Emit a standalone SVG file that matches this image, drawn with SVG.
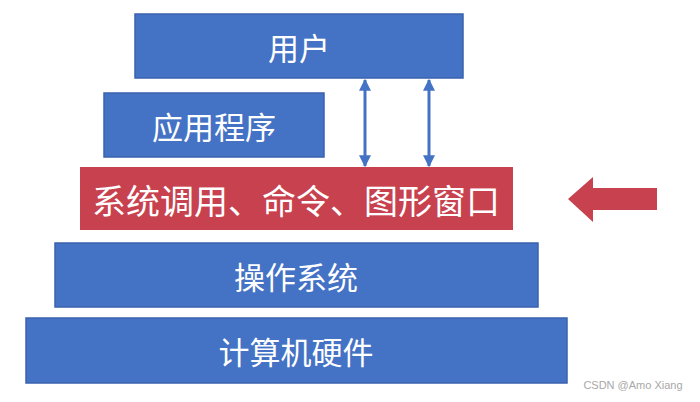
<svg xmlns="http://www.w3.org/2000/svg" width="700" height="402" viewBox="0 0 700 402">
<defs>
<style>
.blue{fill:#4472C4;stroke:#3A63AE;stroke-width:1.5}
.red{fill:#C8414F;stroke:none}
.t{fill:#fff;font-family:"Noto Sans CJK SC","Noto Sans",sans-serif;font-size:31px;text-anchor:middle;dominant-baseline:central}
.conn{stroke:#4472C4;stroke-width:3;fill:none}
</style>
<marker id="ah" viewBox="0 0 10 10" refX="9" refY="5" markerWidth="4" markerHeight="4.5" orient="auto-start-reverse" markerUnits="strokeWidth">
<path d="M0,0 L10,5 L0,10 z" fill="#4472C4"/>
</marker>
</defs>
<rect width="700" height="402" fill="#fff"/>
<g id="user"><rect class="blue" x="135" y="14" width="328" height="64"/><text class="t" x="299" y="46">用户</text></g>
<g id="app"><rect class="blue" x="104" y="93" width="220" height="64"/><text class="t" x="214" y="125">应用程序</text></g>
<g id="syscall"><rect class="red" x="80" y="167" width="433" height="63"/><text class="t" x="296" y="199" style="font-size:34px">系统调用、命令、图形窗口</text></g>
<g id="os"><rect class="blue" x="55" y="243" width="483" height="64"/><text class="t" x="296" y="275">操作系统</text></g>
<g id="hw"><rect class="blue" x="26" y="318" width="541" height="65"/><text class="t" x="296" y="350">计算机硬件</text></g>
<g id="connectors">
<line class="conn" x1="365" y1="80" x2="365" y2="166" marker-start="url(#ah)" marker-end="url(#ah)"/>
<line class="conn" x1="429" y1="80" x2="429" y2="166" marker-start="url(#ah)" marker-end="url(#ah)"/>
</g>
<g id="pointer"><path class="red" d="M568,199 L593,177 L593,188 L657,188 L657,210 L593,210 L593,222 z"/></g>
<text x="633" y="389" style="fill:#A8A8A8;font-family:'Liberation Sans',sans-serif;font-size:11px;text-anchor:middle">CSDN @Amo Xiang</text>
</svg>
